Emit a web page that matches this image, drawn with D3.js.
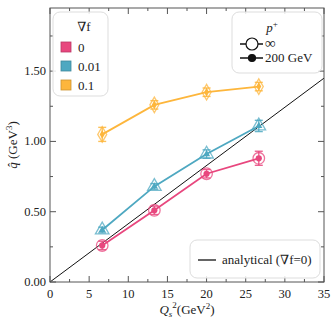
<!DOCTYPE html>
<html><head><meta charset="utf-8">
<script src="https://cdn.jsdelivr.net/npm/d3@7"></script>
<style>body{margin:0;background:#fff}svg{font-family:"Liberation Serif","DejaVu Serif",serif}</style>
</head><body><svg id="c" width="332" height="323"></svg>
<script>
const qs2 = [6.67, 13.33, 20, 26.67];
const gradLabels = ["0", "0.01", "0.1"];
const colors = ["#e8477e", "#4ea8c1", "#fdb63c"];
const shapes = ["circle", "triangle", "diamond"];
const qhatInf = [[0.26, 0.51, 0.77, 0.88], [0.37, 0.68, 0.91, 1.11], [1.05, 1.26, 1.35, 1.39]];
const qhat200 = [[0.26, 0.51, 0.77, 0.88], [0.37, 0.68, 0.91, 1.11], [1.05, 1.26, 1.35, 1.39]];
const errs = [[0.03, 0.03, 0.03, 0.05], [0.02, 0.02, 0.03, 0.04], [0.05, 0.03, 0.03, 0.03]];
const analyticX = [0, 35];
const analyticY = [0, 1.45];
const xTicks = [0, 5, 10, 15, 20, 25, 30, 35];
const yTicks = [0, 0.5, 1.0, 1.5];

const svg = d3.select("#c");
const L = 50, R = 324, T = 8, B = 282;
const x = d3.scaleLinear().domain([0, 35]).range([L, R]);
const y = d3.scaleLinear().domain([0, 1.949]).range([B, T]);
const axisCol = "#555";

svg.append("line").attr("x1", x(analyticX[0])).attr("y1", y(analyticY[0]))
  .attr("x2", x(analyticX[1])).attr("y2", y(analyticY[1]))
  .attr("stroke", "#111").attr("stroke-width", 1);

function sym(s, size) {
  const t = s === "circle" ? d3.symbolCircle : s === "triangle" ? d3.symbolTriangle : d3.symbolDiamond;
  return d3.symbol().type(t).size(size)();
}
const openSize = {circle: 105, triangle: 80, diamond: 70};
const fillSize = {circle: 30, triangle: 22, diamond: 22};

qhatInf.forEach((vals, i) => {
  const c = colors[i];
  const g = svg.append("g");
  const line = d3.line().x((d, j) => x(qs2[j])).y(d => y(d));
  g.append("path").attr("d", line(qhat200[i])).attr("fill", "none").attr("stroke", c).attr("stroke-width", 1.8);
  vals.forEach((v, j) => {
    const cx = x(qs2[j]);
    const e = errs[i][j];
    g.append("line").attr("x1", cx).attr("x2", cx).attr("y1", y(v - e)).attr("y2", y(v + e)).attr("stroke", c).attr("stroke-width", 1.4).attr("stroke-opacity", 0.85);
    [v - e, v + e].forEach(yy => g.append("line").attr("x1", cx - 4).attr("x2", cx + 4).attr("y1", y(yy)).attr("y2", y(yy)).attr("stroke", c).attr("stroke-width", 1.4).attr("stroke-opacity", 0.85));
    g.append("path").attr("d", sym(shapes[i], openSize[shapes[i]]))
      .attr("transform", `translate(${cx},${y(v)})`).attr("fill", "none").attr("stroke", c).attr("stroke-width", 1.3).attr("stroke-opacity", 0.75);
  });
  qhat200[i].forEach((v, j) => {
    g.append("path").attr("d", sym(shapes[i], fillSize[shapes[i]]))
      .attr("transform", `translate(${x(qs2[j])},${y(v)})`).attr("fill", c);
  });
});

svg.append("rect").attr("x", L).attr("y", T).attr("width", R - L).attr("height", B - T)
  .attr("fill", "none").attr("stroke", axisCol).attr("stroke-width", 1);

const minorX = d3.range(2.5, 35, 5);
const minorY = d3.range(0.25, 1.95, 0.5);
xTicks.forEach(t => {
  svg.append("line").attr("x1", x(t)).attr("x2", x(t)).attr("y1", B).attr("y2", B - 6).attr("stroke", axisCol);
  svg.append("line").attr("x1", x(t)).attr("x2", x(t)).attr("y1", T).attr("y2", T + 6).attr("stroke", axisCol);
  svg.append("text").attr("x", x(t)).attr("y", B + 16).attr("text-anchor", "middle").attr("font-size", 12.5).attr("fill", "#222").text(t);
});
minorX.forEach(t => {
  svg.append("line").attr("x1", x(t)).attr("x2", x(t)).attr("y1", B).attr("y2", B - 3).attr("stroke", axisCol);
  svg.append("line").attr("x1", x(t)).attr("x2", x(t)).attr("y1", T).attr("y2", T + 3).attr("stroke", axisCol);
});
yTicks.forEach(t => {
  svg.append("line").attr("x1", L).attr("x2", L + 6).attr("y1", y(t)).attr("y2", y(t)).attr("stroke", axisCol);
  svg.append("line").attr("x1", R).attr("x2", R - 6).attr("y1", y(t)).attr("y2", y(t)).attr("stroke", axisCol);
  svg.append("text").attr("x", L - 4).attr("y", y(t) + 4).attr("text-anchor", "end").attr("font-size", 12.5).attr("fill", "#222").text(t.toFixed(2));
});
minorY.forEach(t => {
  svg.append("line").attr("x1", L).attr("x2", L + 3).attr("y1", y(t)).attr("y2", y(t)).attr("stroke", axisCol);
  svg.append("line").attr("x1", R).attr("x2", R - 3).attr("y1", y(t)).attr("y2", y(t)).attr("stroke", axisCol);
});

const xl = svg.append("text").attr("x", 187).attr("y", 314).attr("text-anchor", "middle").attr("font-size", 13).attr("fill", "#222");
xl.append("tspan").attr("font-style", "italic").text("Q");
xl.append("tspan").attr("font-style", "italic").attr("font-size", 9).attr("dy", 3).text("s");
xl.append("tspan").attr("font-size", 9).attr("dy", -9).text("2");
xl.append("tspan").attr("dy", 6).text("(GeV");
xl.append("tspan").attr("font-size", 9).attr("dy", -5).text("2");
xl.append("tspan").attr("dy", 5).text(")");

const yl = svg.append("text").attr("transform", "translate(17,145) rotate(-90)").attr("text-anchor", "middle").attr("font-size", 13).attr("fill", "#222");
yl.append("tspan").attr("font-style", "italic").text("q\u0302");
yl.append("tspan").text(" (GeV");
yl.append("tspan").attr("font-size", 9).attr("dy", -5).text("3");
yl.append("tspan").attr("dy", 5).text(")");

svg.append("rect").attr("x", 53).attr("y", 12).attr("width", 55).attr("height", 84).attr("rx", 7)
  .attr("fill", "rgba(255,255,255,0.85)").attr("stroke", "#ddd");
svg.append("text").attr("x", 84).attr("y", 31).attr("text-anchor", "middle").attr("font-size", 13).attr("fill", "#222").text("\u2207f");
gradLabels.forEach((lab, i) => {
  const yy = 42 + i * 19;
  svg.append("rect").attr("x", 61).attr("y", yy).attr("width", 10).attr("height", 10)
    .attr("fill", colors[i]).attr("stroke", d3.color(colors[i]).darker(0.6)).attr("stroke-width", 0.8);
  svg.append("text").attr("x", 78).attr("y", yy + 9.5).attr("font-size", 13).attr("fill", "#222").text(lab);
});

svg.append("rect").attr("x", 232).attr("y", 12).attr("width", 90).attr("height", 61).attr("rx", 7)
  .attr("fill", "rgba(255,255,255,0.85)").attr("stroke", "#ddd");
svg.append("text").attr("x", 272).attr("y", 32).attr("text-anchor", "middle").attr("font-size", 13).attr("font-style", "italic").attr("fill", "#222")
  .text("p").append("tspan").attr("font-size", 9).attr("dy", -5).attr("font-style", "normal").text("+");
[["\u221e", false], ["200 GeV", true]].forEach(([lab, filled], i) => {
  const yy = 44 + i * 14;
  svg.append("line").attr("x1", 240).attr("x2", 263).attr("y1", yy).attr("y2", yy).attr("stroke", "#111").attr("stroke-width", 1.5);
  svg.append("circle").attr("cx", 252).attr("cy", yy).attr("r", filled ? 3.5 : 6)
    .attr("fill", filled ? "#111" : "white").attr("stroke", "#111").attr("stroke-width", 1.2);
  svg.append("text").attr("x", 265).attr("y", yy + 4).attr("font-size", lab === "\u221e" ? 15 : 13).attr("fill", "#222").text(lab);
});

svg.append("rect").attr("x", 190).attr("y", 240).attr("width", 130).attr("height", 38).attr("rx", 7)
  .attr("fill", "rgba(255,255,255,0.85)").attr("stroke", "#ddd");
svg.append("line").attr("x1", 198).attr("x2", 216).attr("y1", 260).attr("y2", 260).attr("stroke", "#111").attr("stroke-width", 1.3);
svg.append("text").attr("x", 222).attr("y", 264).attr("font-size", 13).attr("fill", "#222").text("analytical (\u2207f=0)");
</script></body></html>
